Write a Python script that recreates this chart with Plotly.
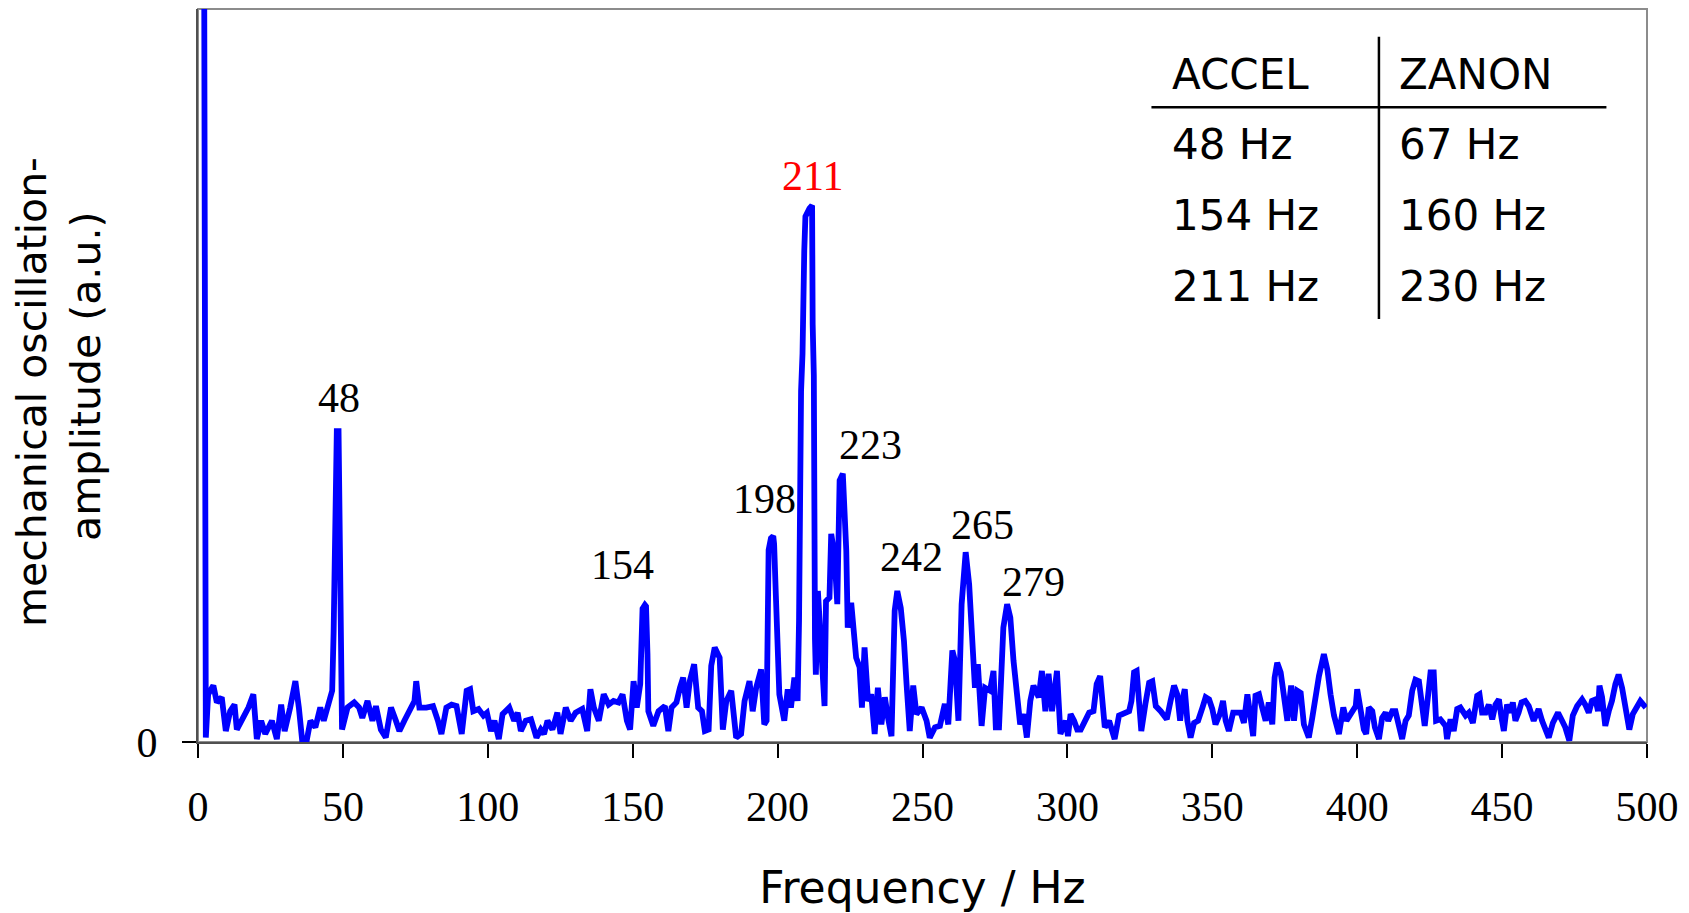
import plotly.graph_objects as go

# ---------------- data ----------------
band_000_100 = [
    (1.4, 1.30), (2.0, 1.30), (2.7, 0.006), (3.5, 0.065), (5.3, 0.077), (6.5, 0.054),
    (8.2, 0.061), (9.6, 0.015), (11.1, 0.042), (12.6, 0.051), (13.4, 0.017), (15.1, 0.029),
    (17.4, 0.047), (19.1, 0.065), (20.3, 0.004), (21.8, 0.029), (23.2, 0.011), (25.5, 0.029),
    (27.2, 0.004), (28.7, 0.051), (29.9, 0.015), (31.8, 0.047), (33.6, 0.083), (34.8, 0.047),
    (35.9, 0.004), (37.6, 0.004), (38.8, 0.029), (40.5, 0.020), (42.2, 0.047), (43.4, 0.029),
    (45.1, 0.058), (46.3, 0.070), (46.8, 0.150), (47.2, 0.330), (47.6, 0.360), (47.9, 0.424),
    (48.5, 0.424), (48.9, 0.300), (49.3, 0.260), (49.7, 0.017), (51.6, 0.047), (53.9, 0.054),
    (55.6, 0.047), (56.7, 0.033), (58.5, 0.056), (60.2, 0.029), (61.4, 0.049), (63.1, 0.017),
    (64.8, 0.006), (66.6, 0.047), (68.3, 0.029), (69.5, 0.015), (71.2, 0.029), (73.0, 0.042),
    (74.7, 0.056), (75.3, 0.083), (76.4, 0.047), (78.8, 0.047), (81.1, 0.049), (82.8, 0.029),
    (84.0, 0.011), (85.7, 0.047), (87.5, 0.051), (89.2, 0.049), (91.0, 0.011), (92.7, 0.070),
    (93.9, 0.072), (95.0, 0.042), (96.8, 0.045), (98.5, 0.036), (99.7, 0.040),
]
band_100_200 = [
    (101.1, 0.015), (102.3, 0.029), (103.8, 0.004), (105.1, 0.038), (107.4, 0.047), (109.1, 0.029),
    (110.3, 0.040), (111.4, 0.015), (113.1, 0.029), (114.9, 0.031), (116.8, 0.006), (118.3, 0.017),
    (119.4, 0.011), (120.6, 0.029), (122.3, 0.017), (124.0, 0.040), (125.1, 0.011), (126.9, 0.047),
    (128.6, 0.029), (130.3, 0.040), (132.6, 0.045), (134.3, 0.015), (135.4, 0.072), (136.6, 0.047),
    (138.3, 0.029), (140.0, 0.065), (141.7, 0.051), (143.4, 0.056), (145.1, 0.054), (146.5, 0.065),
    (148.0, 0.029), (149.1, 0.017), (150.3, 0.083), (151.4, 0.047), (152.6, 0.079), (153.0, 0.170),
    (153.4, 0.182), (154.2, 0.187), (154.6, 0.185), (155.1, 0.120), (155.4, 0.042), (157.1, 0.022),
    (158.9, 0.042), (161.1, 0.049), (162.3, 0.015), (163.4, 0.047), (165.1, 0.054), (166.3, 0.074),
    (167.4, 0.088), (168.6, 0.047), (169.7, 0.083), (171.2, 0.106), (172.6, 0.047), (173.9, 0.042),
    (174.9, 0.015), (176.2, 0.017), (177.1, 0.104), (178.3, 0.129), (180.0, 0.115), (181.1, 0.017),
    (182.3, 0.056), (184.0, 0.070), (184.6, 0.047), (185.7, 0.006), (187.4, 0.011), (188.6, 0.056),
    (190.3, 0.083), (191.4, 0.042), (192.6, 0.074), (194.3, 0.099), (195.4, 0.024), (196.2, 0.029),
    (196.9, 0.262), (197.7, 0.278), (198.5, 0.281), (198.8, 0.270), (199.4, 0.200),
]
band_200_300 = [
    (200.0, 0.093), (200.6, 0.065), (202.3, 0.029), (203.5, 0.072), (204.6, 0.047), (205.8, 0.088),
    (206.9, 0.056), (207.4, 0.166), (208.1, 0.479), (208.6, 0.530), (209.2, 0.670), (209.6, 0.717),
    (211.0, 0.728), (211.9, 0.732), (212.1, 0.570), (212.5, 0.500), (212.9, 0.140), (213.2, 0.092),
    (213.9, 0.206), (215.0, 0.138), (216.2, 0.049), (216.7, 0.192), (217.9, 0.197), (218.5, 0.284),
    (219.6, 0.256), (220.6, 0.188), (221.4, 0.357), (222.5, 0.366), (223.7, 0.261), (224.2, 0.156),
    (225.4, 0.190), (227.1, 0.115), (228.3, 0.102), (229.1, 0.047), (230.0, 0.129), (231.2, 0.056),
    (232.3, 0.065), (233.5, 0.011), (234.6, 0.074), (235.8, 0.024), (237.0, 0.061), (238.1, 0.033),
    (239.3, 0.008), (240.4, 0.179), (241.3, 0.206), (242.5, 0.183), (243.6, 0.138), (244.5, 0.079),
    (245.6, 0.015), (246.8, 0.077), (247.9, 0.038), (249.7, 0.047), (251.4, 0.029), (252.5, 0.006),
    (254.3, 0.020), (256.0, 0.022), (257.7, 0.052), (258.9, 0.024), (260.3, 0.125), (261.2, 0.111),
    (262.4, 0.029), (263.5, 0.188), (264.9, 0.259), (266.1, 0.215), (267.2, 0.120), (268.1, 0.074),
    (269.1, 0.106), (270.4, 0.022), (271.6, 0.074), (273.3, 0.070), (274.5, 0.097), (275.3, 0.020),
    (276.4, 0.020), (277.9, 0.156), (279.2, 0.188), (280.3, 0.170), (281.4, 0.111), (282.6, 0.065),
    (283.7, 0.024), (284.9, 0.038), (286.0, 0.006), (287.2, 0.056), (288.3, 0.077), (290.1, 0.061),
    (291.2, 0.097), (292.4, 0.042), (293.5, 0.093), (294.7, 0.042), (296.4, 0.097), (297.6, 0.011),
    (299.4, 0.029),
]
band_300_400 = [
    (300.2, 0.008), (301.1, 0.038), (302.3, 0.029), (303.4, 0.017), (304.6, 0.017), (306.3, 0.029),
    (307.5, 0.040), (309.0, 0.042), (310.1, 0.079), (311.3, 0.090), (312.1, 0.056), (312.9, 0.020),
    (314.4, 0.029), (315.5, 0.017), (316.3, 0.004), (317.8, 0.036), (319.5, 0.040), (321.3, 0.042),
    (322.1, 0.056), (323.0, 0.095), (323.9, 0.097), (324.7, 0.065), (325.5, 0.015), (327.0, 0.054),
    (328.2, 0.081), (329.3, 0.083), (330.5, 0.049), (332.2, 0.042), (334.3, 0.031), (335.6, 0.056),
    (336.8, 0.077), (337.9, 0.065), (338.9, 0.029), (339.7, 0.058), (340.5, 0.072), (341.4, 0.029),
    (342.5, 0.006), (343.7, 0.026), (345.1, 0.029), (346.6, 0.047), (347.7, 0.061), (348.9, 0.058),
    (350.0, 0.045), (351.1, 0.024), (352.6, 0.038), (353.7, 0.056), (354.6, 0.029), (355.7, 0.015),
    (357.2, 0.040), (359.8, 0.040), (360.9, 0.026), (362.1, 0.065), (363.0, 0.042), (364.1, 0.008),
    (364.9, 0.063), (366.1, 0.065), (367.2, 0.047), (368.4, 0.029), (369.5, 0.054), (370.7, 0.024),
    (371.5, 0.088), (372.4, 0.108), (373.6, 0.095), (374.7, 0.067), (375.9, 0.029), (377.2, 0.077),
    (378.2, 0.029), (379.3, 0.070), (380.5, 0.067), (381.6, 0.024), (383.3, 0.006), (384.5, 0.033),
    (385.6, 0.063), (386.8, 0.090), (388.5, 0.120), (389.7, 0.099), (390.8, 0.065), (392.0, 0.036),
    (393.7, 0.011), (395.2, 0.047), (396.3, 0.029), (397.7, 0.038), (399.5, 0.049),
]
band_400_500 = [
    (400.0, 0.072), (401.1, 0.047), (402.3, 0.017), (403.1, 0.011), (404.0, 0.047), (405.2, 0.042),
    (406.1, 0.020), (407.5, 0.004), (408.6, 0.033), (409.8, 0.040), (410.7, 0.029), (412.1, 0.042),
    (413.2, 0.042), (414.4, 0.022), (415.5, 0.004), (416.7, 0.029), (417.8, 0.036), (419.0, 0.070),
    (420.1, 0.085), (421.3, 0.083), (422.2, 0.047), (423.3, 0.022), (424.5, 0.065), (425.3, 0.095),
    (426.4, 0.095), (427.2, 0.029), (428.7, 0.031), (430.5, 0.022), (431.0, 0.004), (432.2, 0.031),
    (433.3, 0.015), (434.5, 0.045), (435.6, 0.047), (437.4, 0.036), (438.5, 0.040), (439.9, 0.026),
    (441.4, 0.063), (442.2, 0.065), (443.1, 0.040), (444.3, 0.040), (445.4, 0.051), (446.6, 0.031),
    (447.7, 0.051), (448.9, 0.058), (449.8, 0.033), (450.6, 0.015), (451.7, 0.051), (452.9, 0.040),
    (453.7, 0.054), (454.6, 0.029), (455.7, 0.040), (456.7, 0.054), (458.0, 0.056), (459.2, 0.049),
    (460.9, 0.029), (462.6, 0.045), (463.8, 0.029), (464.9, 0.015), (466.1, 0.006), (467.5, 0.026),
    (469.3, 0.040), (470.7, 0.029), (471.8, 0.020), (473.2, 0.002), (474.4, 0.036), (475.9, 0.049),
    (477.6, 0.058), (478.7, 0.051), (479.9, 0.040), (481.0, 0.056), (482.2, 0.058), (483.1, 0.042),
    (483.6, 0.077), (484.5, 0.061), (485.6, 0.022), (486.8, 0.042), (487.9, 0.056), (489.1, 0.079),
    (490.2, 0.092), (491.4, 0.074), (492.5, 0.049), (493.9, 0.017), (495.1, 0.038), (496.2, 0.047),
    (497.7, 0.056), (499.6, 0.047),
]

x_ticks = [0, 50, 100, 150, 200, 250, 300, 350, 400, 450, 500]
peak_labels = [48, 154, 198, 211, 223, 242, 265, 279]
peak_highlight = 211
table_header = ["ACCEL", "ZANON"]
accel_rows = ["48 Hz", "154 Hz", "211 Hz"]
zanon_rows = ["67 Hz", "160 Hz", "230 Hz"]

# ---------------- assemble ----------------
pairs = band_000_100 + band_100_200 + band_200_300 + band_300_400 + band_400_500
freq = [p[0] for p in pairs]
amp = [p[1] for p in pairs]

SERIF = "Liberation Serif, Times New Roman, serif"
SANS = "DejaVu Sans, Verdana, sans-serif"
FS = 42

fig = go.Figure()
fig.add_trace(go.Scatter(x=freq, y=amp, mode="lines",
                         line=dict(color="#0000FF", width=5.8),
                         showlegend=False, hoverinfo="x+y"))

# peak labels, offsets in pixels relative to each peak
label_shift = {48: (2, 33), 154: (-22, 40), 198: (-7, 37), 211: (3, 29),
               223: (26, 29), 242: (12, 34), 265: (17, 27), 279: (27, 22)}
for pk in peak_labels:
    window = [(a, f) for f, a in zip(freq, amp) if abs(f - pk) <= 1.6]
    a_max, f_max = max(window)
    dx, dy = label_shift[pk]
    fig.add_annotation(x=pk, y=a_max, text=str(pk), showarrow=False,
                       xanchor="center", yanchor="middle", xshift=dx, yshift=dy,
                       font=dict(family=SERIF, size=FS,
                                 color="#FF0000" if pk == peak_highlight else "#000000"))

# y title (two lines)
fig.add_annotation(xref="paper", yref="paper", x=0, y=0.4775, xshift=-166,
                   text="mechanical oscillation-", textangle=-90, showarrow=False,
                   xanchor="center", yanchor="middle",
                   font=dict(family=SANS, size=41, color="#000000"))
fig.add_annotation(xref="paper", yref="paper", x=0, y=0.498, xshift=-112,
                   text="amplitude (a.u.)", textangle=-90, showarrow=False,
                   xanchor="center", yanchor="middle",
                   font=dict(family=SANS, size=41, color="#000000"))

# table in upper right
col_x = [0.6708, 0.8278]
head_y = 0.911
row_step = 0.0965
for cx, head, rows in zip(col_x, table_header, [accel_rows, zanon_rows]):
    fig.add_annotation(xref="paper", yref="paper", x=cx, y=head_y, text=head,
                       showarrow=False, xanchor="left", yanchor="middle",
                       font=dict(family=SANS, size=FS, color="#000000"))
    for i, r in enumerate(rows):
        fig.add_annotation(xref="paper", yref="paper", x=cx, y=head_y - row_step * (i + 1),
                           text=r, showarrow=False, xanchor="left", yanchor="middle",
                           font=dict(family=SANS, size=FS, color="#000000"))
fig.add_shape(type="line", xref="paper", yref="paper", x0=0.815, x1=0.815, y0=0.577, y1=0.962,
              line=dict(color="#000000", width=2.5))
fig.add_shape(type="line", xref="paper", yref="paper", x0=0.658, x1=0.972, y0=0.866, y1=0.866,
              line=dict(color="#000000", width=2.5))

# plot frame (top / right in light gray)
fig.add_shape(type="rect", xref="paper", yref="paper", x0=0, x1=1, y0=0, y1=1,
              line=dict(color="#8C8C8C", width=2), layer="below")

# the page body adds an 8 px offset on the left and top
fig.update_layout(
    width=1681, height=905, autosize=False,
    margin=dict(l=190, r=42, t=1, b=171, pad=0, autoexpand=False),
    paper_bgcolor="white", plot_bgcolor="white",
    xaxis=dict(range=[0, 500], tickvals=x_ticks, ticks="outside", ticklen=14,
               tickwidth=1.5, tickcolor="#000000", showline=True, linecolor="#505050",
               linewidth=2, showgrid=False, zeroline=False, automargin=False,
               tickfont=dict(family=SERIF, size=FS, color="#000000"),
               ticklabelstandoff=13,
               title=dict(text="Frequency / Hz", standoff=48,
                          font=dict(family=SANS, size=44, color="#000000"))),
    yaxis=dict(range=[0, 1], tickvals=[0], ticktext=["0"], ticks="outside", ticklen=14,
               tickwidth=1.5, tickcolor="#000000", showline=True, linecolor="#505050",
               linewidth=2, showgrid=False, zeroline=False, automargin=False,
               tickfont=dict(family=SERIF, size=FS, color="#000000"),
               ticklabelstandoff=16),
)

fig.write_html("out.html")
